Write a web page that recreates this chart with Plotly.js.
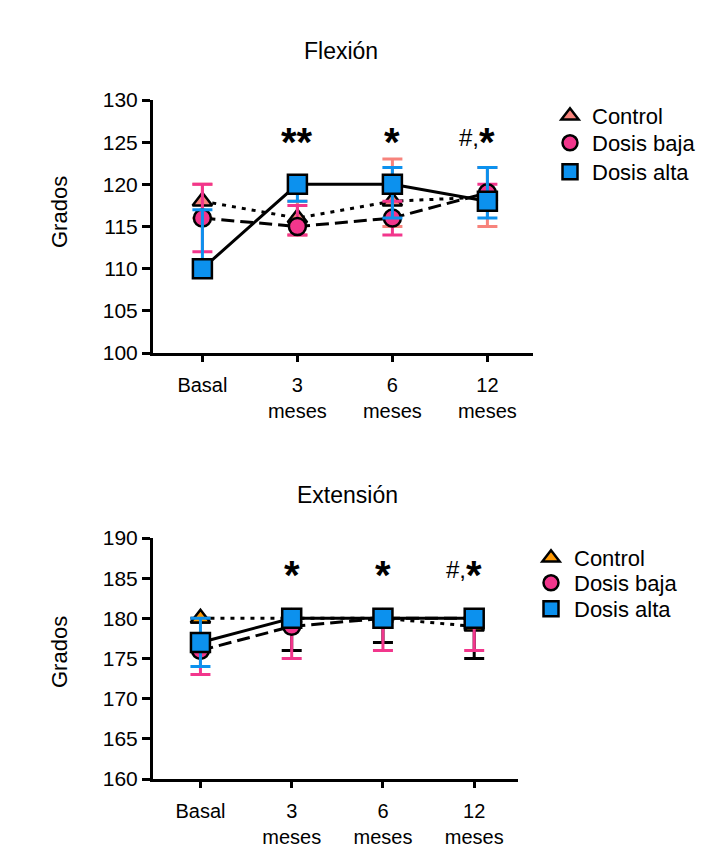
<!DOCTYPE html>
<html>
<head>
<meta charset="utf-8">
<script src="https://cdn.plot.ly/plotly-3.0.1.min.js"></script>
<style>html,body{margin:0;padding:0;background:#fff}#chart{width:704px;height:852px}</style>
</head>
<body>
<div id="chart"></div>
<script>
// ---- data ----
const categories = ['Basal', '3 meses', '6 meses', '12 meses'];
const tickLabels = ['Basal', '3<br>meses', '6<br>meses', '12<br>meses'];
const seriesNames = ['Control', 'Dosis baja', 'Dosis alta'];

// Flexión
const flexControl = [118, 116, 118, 118.5];
const flexControlPlus = [2, 2, 5, 3.5];
const flexControlMinus = [2, 2, 3, 3.5];
const flexBaja = [116, 115, 116, 119];
const flexBajaPlus = [4, 2.5, 2, 1];
const flexBajaMinus = [4, 1, 2, 1];
const flexAlta = [110, 120, 120, 118];
const flexAltaPlus = [7, 0, 2, 4];
const flexAltaMinus = [0, 2, 4, 2];
const flexStars = ['', '**', '*', '*'];
const flexHash = ['', '', '', '#,'];

// Extensión
const extControl = [180, 180, 180, 179];
const extControlPlus = [0, 0, 0, 0];
const extControlMinus = [0.5, 4, 3, 4];
const extBaja = [176, 179, 180, 180];
const extBajaPlus = [0, 0, 0, 0];
const extBajaMinus = [3, 4, 4, 4];
const extAlta = [177, 180, 180, 180];
const extAltaPlus = [3, 0, 0, 0];
const extAltaMinus = [3, 0, 0, 0];
const extStars = ['', '*', '*', '*'];
const extHash = ['', '', '', '#,'];

const flexTicks = [100, 105, 110, 115, 120, 125, 130];
const extTicks = [160, 165, 170, 175, 180, 185, 190];

// ---- styles ----
const FONT = 'Liberation Sans, Arial, sans-serif';
const salmon = '#F7837C';
const pink = '#F2368C';
const blue = '#0C91EE';
const orange = '#FF9A05';
const symbols = ['triangle-up', 'circle', 'square'];
const dashes = ['4px,6px', '13px,6px', 'solid'];
const sizes = [17, 17, 19];

function series(xa, ya, y, plus, minus, idx, fill, errColor) {
  return {
    x: categories, y: y, xaxis: xa, yaxis: ya, type: 'scatter', mode: 'lines+markers',
    name: seriesNames[idx], showlegend: false, cliponaxis: false,
    line: {color: '#000', width: 3, dash: dashes[idx]},
    marker: {symbol: symbols[idx], size: sizes[idx], color: fill, line: {color: '#000', width: 2.5}},
    error_y: {type: 'data', symmetric: false, array: plus, arrayminus: minus,
      color: errColor, thickness: 3, width: 10}
  };
}
function legendItem(idx, fill, legendId, xa, ya) {
  return {
    x: [null], y: [null], type: 'scatter', mode: 'markers', name: seriesNames[idx],
    legend: legendId, xaxis: xa, yaxis: ya,
    marker: {symbol: symbols[idx], size: 15, color: fill, line: {color: '#000', width: 2.5}}
  };
}

const traces = [
  series('x', 'y', flexControl, flexControlPlus, flexControlMinus, 0, salmon, salmon),
  series('x', 'y', flexBaja, flexBajaPlus, flexBajaMinus, 1, pink, pink),
  series('x', 'y', flexAlta, flexAltaPlus, flexAltaMinus, 2, blue, blue),
  series('x2', 'y2', extControl, extControlPlus, extControlMinus, 0, orange, '#000'),
  series('x2', 'y2', extBaja, extBajaPlus, extBajaMinus, 1, pink, pink),
  series('x2', 'y2', extAlta, extAltaPlus, extAltaMinus, 2, blue, blue),
  legendItem(0, salmon, 'legend', 'x', 'y'),
  legendItem(1, pink, 'legend2', 'x', 'y'),
  legendItem(2, blue, 'legend3', 'x', 'y'),
  legendItem(0, orange, 'legend4', 'x2', 'y2'),
  legendItem(1, pink, 'legend5', 'x2', 'y2'),
  legendItem(2, blue, 'legend6', 'x2', 'y2')
];

function xAxis(domain, anchor) {
  return {
    domain: domain, anchor: anchor, type: 'category', range: [-0.52, 3.48],
    tickmode: 'array', tickvals: categories, ticktext: tickLabels,
    showline: true, linecolor: '#000', linewidth: 3, ticks: 'outside', ticklen: 6, tickwidth: 3,
    tickcolor: '#000', showgrid: false, zeroline: false, ticklabelstandoff: 6,
    tickfont: {family: FONT, size: 20, color: '#000'}, fixedrange: true
  };
}
function yAxis(domain, anchor, range, ticks) {
  return {
    domain: domain, anchor: anchor, range: range, tickmode: 'array', tickvals: ticks,
    showline: true, linecolor: '#000', linewidth: 3, ticks: 'outside', ticklen: 8, tickwidth: 3,
    tickcolor: '#000', showgrid: false, zeroline: false,
    tickfont: {family: FONT, size: 21, color: '#000'}, fixedrange: true
  };
}

const annotations = [
  {text: 'Flexión', xref: 'paper', yref: 'paper', x: 341 / 704, y: 1 - 51 / 852, xanchor: 'center', yanchor: 'middle', showarrow: false, font: {family: FONT, size: 23, color: '#000'}},
  {text: 'Extensión', xref: 'paper', yref: 'paper', x: 347 / 704, y: 1 - 495 / 852, xanchor: 'center', yanchor: 'middle', showarrow: false, font: {family: FONT, size: 23, color: '#000'}},
  {text: 'Grados', xref: 'paper', yref: 'paper', x: 59 / 704, y: 1 - 212 / 852, xanchor: 'center', yanchor: 'middle', textangle: -90, showarrow: false, font: {family: FONT, size: 22, color: '#000'}},
  {text: 'Grados', xref: 'paper', yref: 'paper', x: 59 / 704, y: 1 - 652 / 852, xanchor: 'center', yanchor: 'middle', textangle: -90, showarrow: false, font: {family: FONT, size: 22, color: '#000'}}
];
function addSig(stars, hashes, xref, yref, yval) {
  stars.forEach(function (s, i) {
    if (s) annotations.push({text: s, xref: xref, yref: yref, x: categories[i], y: yval,
      xanchor: 'center', yanchor: 'middle', yshift: -8, showarrow: false,
      font: {family: FONT, size: 40, weight: 'bold', color: '#000'}});
    if (hashes[i]) annotations.push({text: hashes[i], xref: xref, yref: yref, x: categories[i], y: yval,
      xanchor: 'right', yanchor: 'middle', xshift: -6, yshift: -3, showarrow: false,
      font: {family: FONT, size: 24, color: '#000'}});
  });
}
addSig(flexStars, flexHash, 'x', 'y', 125.96);
addSig(extStars, extHash, 'x2', 'y2', 186.45);

function leg(xpx, ypx, w, size) {
  return {x: xpx / 704, y: 1 - ypx / 852, xanchor: 'left', yanchor: 'middle', bgcolor: 'rgba(0,0,0,0)',
    font: {family: FONT, size: size, color: '#000'}, itemwidth: w};
}

const layout = {
  width: 704, height: 852, margin: {l: 0, r: 0, t: 0, b: 0},
  paper_bgcolor: '#fff', plot_bgcolor: '#fff', font: {family: FONT, color: '#000'},
  xaxis: xAxis([153 / 704, 533 / 704], 'y'),
  yaxis: yAxis([1 - 353 / 852, 1 - 100 / 852], 'x', [100, 130], flexTicks),
  xaxis2: xAxis([153 / 704, 518 / 704], 'y2'),
  yaxis2: yAxis([1 - 779 / 852, 1 - 538 / 852], 'x2', [160, 190], extTicks),
  legend: leg(548, 116, 34, 22),
  legend2: leg(548, 143, 34, 22),
  legend3: leg(548, 172, 34, 22),
  legend4: leg(528, 558, 36, 22),
  legend5: leg(528, 583, 36, 22),
  legend6: leg(528, 609, 36, 22),
  annotations: annotations,
  showlegend: true
};

Plotly.newPlot('chart', traces, layout, {displayModeBar: false, staticPlot: true});
</script>
</body>
</html>
